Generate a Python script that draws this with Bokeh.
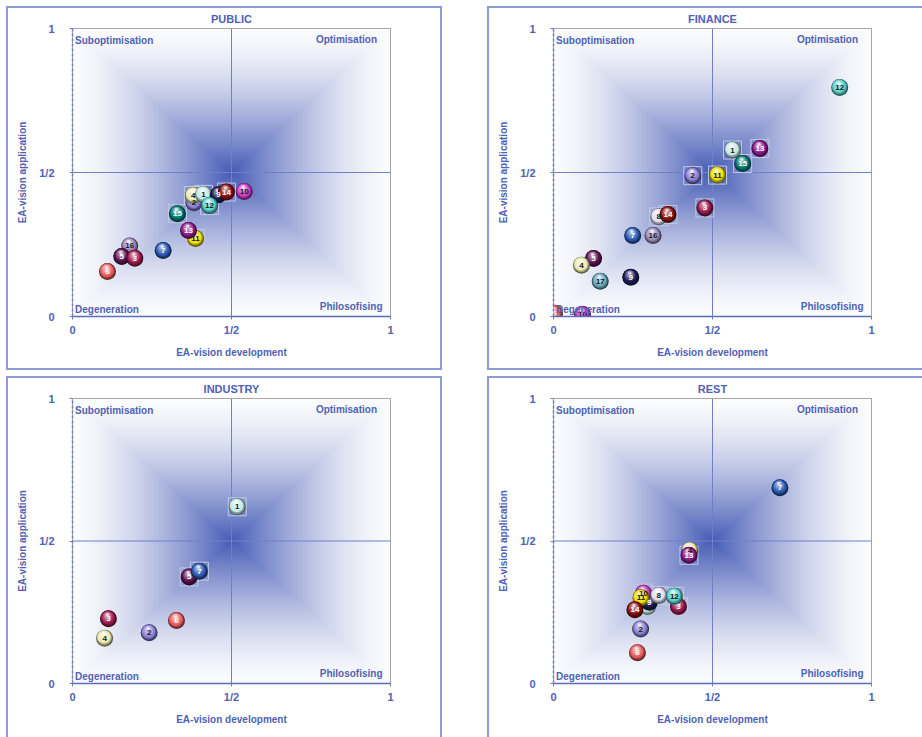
import numpy as np
from bokeh.plotting import figure
from bokeh.models import Range1d, FixedTicker, Span, Label, ColumnDataSource
from bokeh.layouts import column, row
from bokeh.embed import file_html
from bokeh.resources import INLINE
from bokeh.core.properties import value

# ---- data: (EA-vision development, EA-vision application) per organisation,
# ---- listed in drawing order
public_ids = [16, 5, 3, 6, 7, 2, 4, 1, 9, 14, 12, 10, 15, 11, 13]
public_dev = [0.180, 0.155, 0.196, 0.110, 0.285, 0.382, 0.380, 0.412, 0.459, 0.484, 0.431, 0.540, 0.330, 0.387, 0.365]
public_app = [0.245, 0.208, 0.202, 0.156, 0.229, 0.395, 0.420, 0.424, 0.423, 0.432, 0.385, 0.434, 0.357, 0.271, 0.299]
public_boxed = [4, 1, 14, 12, 15, 11]

finance_ids = [6, 10, 17, 9, 5, 4, 7, 16, 8, 14, 3, 2, 11, 1, 15, 13, 12]
finance_dev = [0.003, 0.091, 0.147, 0.243, 0.126, 0.088, 0.249, 0.313, 0.331, 0.360, 0.476, 0.438, 0.516, 0.563, 0.595, 0.649, 0.900]
finance_app = [0.011, 0.008, 0.122, 0.136, 0.201, 0.178, 0.281, 0.281, 0.346, 0.354, 0.377, 0.489, 0.491, 0.578, 0.531, 0.583, 0.795]
finance_boxed = [8, 14, 3, 2, 11, 1, 15, 13]

industry_ids = [4, 3, 2, 6, 5, 7, 1]
industry_dev = [0.101, 0.113, 0.241, 0.327, 0.367, 0.399, 0.518]
industry_app = [0.159, 0.227, 0.178, 0.221, 0.374, 0.394, 0.620]
industry_boxed = [5, 7, 1]

rest_ids = [6, 2, 1, 9, 10, 11, 14, 8, 3, 12, 4, 13, 7]
rest_dev = [0.264, 0.274, 0.296, 0.301, 0.283, 0.275, 0.256, 0.331, 0.393, 0.380, 0.429, 0.426, 0.712]
rest_app = [0.108, 0.191, 0.270, 0.285, 0.317, 0.301, 0.259, 0.309, 0.270, 0.306, 0.467, 0.450, 0.687]
rest_boxed = [10, 8, 12, 3, 14, 13]

tick_values = [0, 0.5, 1]
tick_labels = ["0", "1/2", "1"]

# ---- styling
BLUE = "#4f62b5"
FONT = "Liberation Sans"
PANEL_EDGE = "#8f9ad6"

BALL_COLOR = {
    1: "#c4ebe3", 2: "#8a7fd2", 3: "#9c1a4c", 4: "#ecebb2", 5: "#5e1254",
    6: "#e85c5c", 7: "#2a5ab2", 8: "#e2ddf0", 9: "#1c1c52", 10: "#c83cc2",
    11: "#f0df00", 12: "#5ad2ce", 13: "#8c1a8c", 14: "#8c1212", 15: "#007c72",
    16: "#9a8aba", 17: "#6aaabc",
}
DARK_LABEL = {1, 2, 4, 8, 10, 11, 12, 16, 17}

# sphere shading: (diameter px, dx px, dy px, mix target, amount)
LAYERS = [
    (17.0, 0.0, 0.0, "black", 0.6),
    (15.4, -0.3, 0.6, "black", 0.32),
    (13.4, -0.6, 1.3, "black", 0.0),
    (10.4, -0.9, 2.1, "white", 0.22),
    (7.0, -1.0, 3.0, "white", 0.45),
    (3.6, -1.0, 4.1, "white", 0.82),
]


def mix(hex_color, target, amount):
    h = hex_color.lstrip("#")
    rgb = np.array([int(h[i:i + 2], 16) for i in (0, 2, 4)], dtype=float)
    tgt = np.zeros(3) if target == "black" else np.full(3, 255.0)
    out = rgb + (tgt - rgb) * amount
    return "#%02x%02x%02x" % tuple(int(round(c)) for c in out)


def gradient_image(nx=320, ny=290):
    # rectangular "from centre" fill: dark blue in the middle, white at the edges
    u = (np.arange(nx) + 0.5) / nx
    v = (np.arange(ny) + 0.5) / ny
    U, V = np.meshgrid(u, v)
    t = np.maximum(np.abs(U - 0.5), np.abs(V - 0.5)) / 0.5
    a = 0.02 + 0.98 * (1.0 - t) ** 1.5
    centre = np.array([70, 92, 182], dtype=float)
    img = np.empty((ny, nx), dtype=np.uint32)
    view = img.view(dtype=np.uint8).reshape((ny, nx, 4))
    for k in range(3):
        view[..., k] = np.round(255 + a * (centre[k] - 255)).astype(np.uint8)
    view[..., 3] = 255
    return img


grad_source = ColumnDataSource(data=dict(image=[gradient_image()]))

ML, MT, MB = 66, 22, 54
FRAME_W = 318


def make_panel(title, ids, dev, app, boxed, width, height, edges):
    mr = width - ML - FRAME_W
    fh = height - MT - MB
    p = figure(width=width, height=height, x_range=Range1d(0, 1), y_range=Range1d(0, 1),
               output_backend="svg", toolbar_location=None, tools="",
               min_border_left=ML, min_border_right=mr, min_border_top=MT, min_border_bottom=MB)
    p.border_fill_color = None
    p.background_fill_color = "white"
    p.outline_line_color = "#8a8a8a"
    p.outline_line_width = 1
    p.xgrid.visible = False
    p.ygrid.visible = False
    shadows = []
    if "left" in edges:
        shadows.append("inset 2px 0 0 0 " + PANEL_EDGE)
    if "top" in edges:
        shadows.append("inset 0 2px 0 0 " + PANEL_EDGE)
    if "right" in edges:
        shadows.append("inset -2px 0 0 0 " + PANEL_EDGE)
    if "bottom" in edges:
        shadows.append("inset 0 -2px 0 0 " + PANEL_EDGE)
    p.styles = {"box-shadow": ", ".join(shadows), "background-color": "white"}

    # title
    p.title.text = title
    p.title.align = "center"
    p.title.offset = -5
    p.title.standoff = 8
    p.title.text_font = FONT
    p.title.text_font_style = "bold"
    p.title.text_font_size = "11px"
    p.title.text_color = BLUE

    # background
    p.image_rgba(image="image", x=0, y=0, dw=1, dh=1, source=grad_source, level="image")
    for dim in ("width", "height"):
        p.add_layout(Span(location=0.5, dimension=dim, line_color="#6d80c8",
                          line_width=1, level="underlay"))

    # axes
    overrides = {tv: tl for tv, tl in zip(tick_values, tick_labels)}
    for ax in (p.xaxis[0], p.yaxis[0]):
        ax.ticker = FixedTicker(ticks=tick_values)
        ax.major_label_overrides = overrides
        ax.major_label_text_font = FONT
        ax.major_label_text_font_style = "bold"
        ax.major_label_text_font_size = "11px"
        ax.major_label_text_color = BLUE
        ax.axis_label_text_font = FONT
        ax.axis_label_text_font_style = "bold"
        ax.axis_label_text_font_size = "10px"
        ax.axis_label_text_color = BLUE
        ax.major_tick_in = 0
        ax.major_tick_out = 3
        ax.major_tick_line_color = "#6f7fb8"
        ax.minor_tick_line_color = None
        ax.axis_line_width = 1.5
    p.xaxis.axis_label = "EA-vision development"
    p.xaxis.axis_line_color = "#5a6cc0"
    p.xaxis.major_label_standoff = 4
    p.xaxis.axis_label_standoff = 8
    p.yaxis.axis_label = "EA-vision application"
    p.yaxis.axis_line_color = "#6f7fb8"
    p.yaxis.axis_line_dash = "3 2"
    p.yaxis.major_label_standoff = 15
    p.yaxis.axis_label_standoff = 8

    # selection boxes
    bx = [d for i, d in zip(ids, dev) if i in boxed]
    by = [a for i, a in zip(ids, app) if i in boxed]
    p.scatter(bx, by, marker="square", size=18, fill_color=None,
              line_color="#c3c9e4", line_width=1)

    # shaded balls, one ball after another so overlaps stack correctly
    sx, sy, ss, sc = [], [], [], []
    for i, d, a in zip(ids, dev, app):
        base = BALL_COLOR[i]
        for size, dxp, dyp, tgt, amt in LAYERS:
            sx.append(d + dxp / FRAME_W)
            sy.append(a + dyp / fh)
            ss.append(size)
            sc.append(mix(base, tgt, amt))
    p.scatter(x=sx, y=sy, size=ss, fill_color=sc, line_color=None, marker="circle")

    # numbers on the balls
    p.text(x=dev, y=app, text=[str(i) for i in ids],
           text_color=["#1a1a1a" if i in DARK_LABEL else "white" for i in ids],
           text_font=value(FONT), text_font_style="bold", text_font_size="8px",
           text_align="center", text_baseline="middle")

    # quadrant names
    quad = [
        ("Suboptimisation", 0, 1, 2.5, -12, "left"),
        ("Optimisation", 1, 1, -13.5, -11, "right"),
        ("Degeneration", 0, 0, 2.5, 7.5, "left"),
        ("Philosofising", 1, 0, -8, 10.5, "right"),
    ]
    for txt, x, y, xo, yo, al in quad:
        p.add_layout(Label(x=x, y=y, x_offset=xo, y_offset=yo, text=txt, text_align=al,
                           text_baseline="middle", text_font=FONT, text_font_style="bold",
                           text_font_size="10px", text_color=BLUE))
    return p


p1 = make_panel("PUBLIC", public_ids, public_dev, public_app, public_boxed, 436, 364,
                ("left", "top", "right", "bottom"))
p2 = make_panel("FINANCE", finance_ids, finance_dev, finance_app, finance_boxed, 435, 364,
                ("left", "top", "bottom"))
p3 = make_panel("INDUSTRY", industry_ids, industry_dev, industry_app, industry_boxed, 436, 361,
                ("left", "top", "right"))
p4 = make_panel("REST", rest_ids, rest_dev, rest_app, rest_boxed, 435, 361,
                ("left", "top"))

p1.margin = (6, 0, 0, 6)
p2.margin = (6, 0, 0, 45)
p3.margin = (6, 0, 0, 6)
p4.margin = (6, 0, 0, 45)

layout = column(row(p1, p2), row(p3, p4))
layout.styles = {"background-color": "white"}

open("out.html", "w").write(file_html(layout, INLINE))
